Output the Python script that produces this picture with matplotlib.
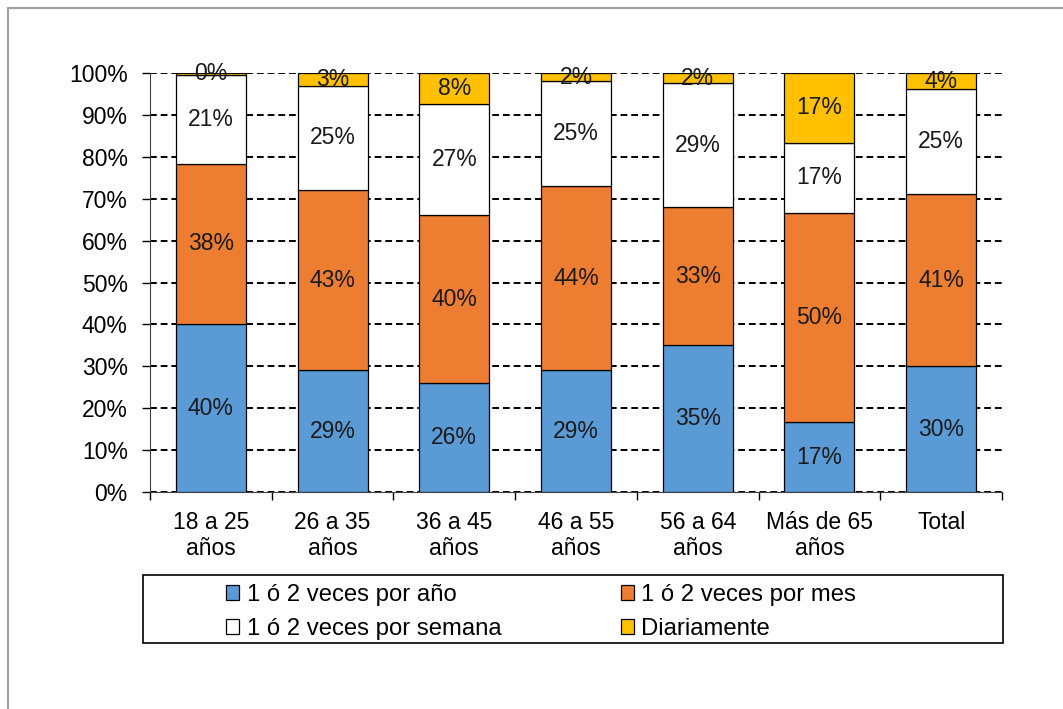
import matplotlib.pyplot as plt
import numpy as np
from matplotlib.patches import Rectangle

plt.rcParams['font.family'] = ['Liberation Sans', 'DejaVu Sans']

categorias = ['18 a 25\naños', '26 a 35\naños', '36 a 45\naños', '46 a 55\naños',
              '56 a 64\naños', 'Más de 65\naños', 'Total']
series = ['1 ó 2 veces por año', '1 ó 2 veces por mes',
          '1 ó 2 veces por semana', 'Diariamente']

por_anio = [40.0, 29.0, 26.0, 29.0, 35.0, 16.7, 30.0]
por_mes = [38.4, 43.1, 40.1, 44.0, 33.0, 50.0, 41.1]
por_semana = [21.2, 24.9, 26.5, 25.0, 29.6, 16.7, 25.0]
diario = [0.4, 3.0, 7.4, 2.0, 2.4, 16.6, 3.9]

etiquetas = [
    ['40%', '29%', '26%', '29%', '35%', '17%', '30%'],
    ['38%', '43%', '40%', '44%', '33%', '50%', '41%'],
    ['21%', '25%', '27%', '25%', '29%', '17%', '25%'],
    ['0%', '3%', '8%', '2%', '2%', '17%', '4%'],
]

colores = ['#5B9BD5', '#ED7D31', '#FFFFFF', '#FFC000']
fs = 16.5

fig = plt.figure(figsize=(10.63, 7.09), dpi=100)
ax = fig.add_axes([150 / 1063, 1 - 492 / 709, 852 / 1063, 419 / 709])

# marco exterior gris
fig.patches.append(Rectangle((8 / 1063, -0.1), 1.2, 1 - 8 / 709 + 0.1,
                             transform=fig.transFigure, fill=False,
                             edgecolor='#A0A0A0', linewidth=1.5))
# marco de la leyenda
fig.patches.append(Rectangle((143 / 1063, 1 - 643 / 709), 860 / 1063, 68 / 709,
                             transform=fig.transFigure, fill=False,
                             edgecolor='black', linewidth=1.2))

x = np.arange(len(categorias))
datos = [por_anio, por_mes, por_semana, diario]
base = np.zeros(len(categorias))
handles = []
for i, vals in enumerate(datos):
    vals = np.array(vals)
    b = ax.bar(x, vals, 0.575, bottom=base, color=colores[i], edgecolor='black',
               linewidth=0.9, label=series[i], zorder=3)
    handles.append(b)
    for j in range(len(x)):
        ax.text(x[j], base[j] + vals[j] / 2, etiquetas[i][j], ha='center',
                va='center', fontsize=fs, color='#1a1a1a', zorder=4)
    base += vals

ax.set_ylim(0, 100)
ax.set_xlim(-0.5, len(categorias) - 0.5)
ax.set_yticks(np.arange(0, 101, 10))
ax.set_yticklabels([f'{v}%' for v in range(0, 101, 10)], fontsize=fs)
ax.yaxis.grid(True, color='black', linestyle=(0, (3.5, 2)), linewidth=1.4, zorder=0)
ax.set_axisbelow(True)

ax.set_xticks(x)
ax.set_xticklabels(categorias, fontsize=fs, linespacing=1.15)
ax.tick_params(axis='x', length=0, pad=14)
ax.set_xticks(np.arange(-0.5, len(categorias), 1), minor=True)
ax.tick_params(axis='x', which='minor', length=6, direction='out', width=1)
ax.tick_params(axis='y', length=6, direction='out', width=1, pad=10)

for s in ['top', 'right']:
    ax.spines[s].set_visible(False)
ax.spines['left'].set_color('#404040')
ax.spines['bottom'].set_color('#404040')

orden = [0, 2, 1, 3]
leg = fig.legend([handles[k] for k in orden], [series[k] for k in orden],
                 loc='center', bbox_to_anchor=(541 / 1063, 1 - 612 / 709),
                 ncol=2, fontsize=17.2, frameon=False,
                 handlelength=0.55, handleheight=0.55, handletextpad=0.3,
                 columnspacing=5.0, labelspacing=0.5, borderpad=0)

fig.savefig('out.png', dpi=100, facecolor='white')
